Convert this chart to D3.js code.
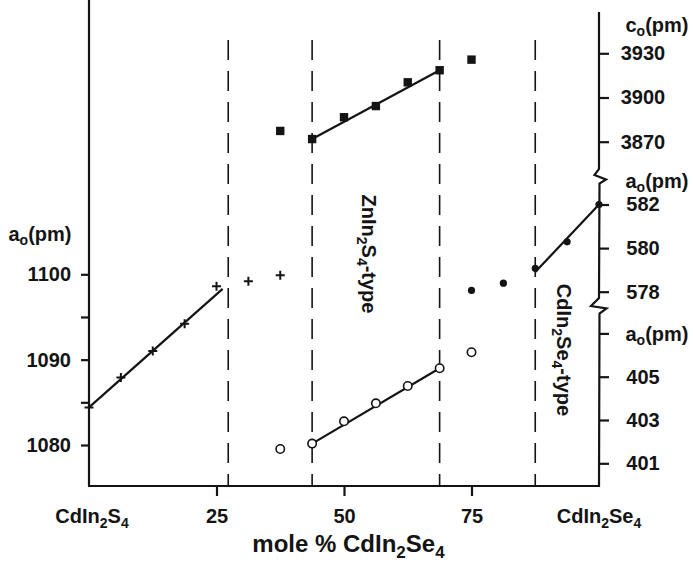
<!DOCTYPE html>
<html>
<head>
<meta charset="utf-8">
<script src="https://cdn.jsdelivr.net/npm/d3@7"></script>
<style>
  html, body { margin: 0; padding: 0; background: #fff; }
  svg { display: block; font-family: "Liberation Sans", Arial, Helvetica, sans-serif; font-weight: bold; }
  .tick text { font-family: "Liberation Sans", Arial, sans-serif; font-weight: bold; }
</style>
</head>
<body>
<svg id="chart" width="693" height="565"></svg>
<script>
// Lattice parameters across the CdIn2S4 – CdIn2Se4 series (mole % CdIn2Se4)

// a0 of the spinel phase (left axis, pm)
const crossPct = [0, 6.25, 12.5, 18.75, 25, 31.25, 37.5];
const crossA   = [1084.4, 1087.9, 1091.0, 1094.2, 1098.6, 1099.2, 1099.9];
const crossFit = [[0, 1084.4], [26.2, 1098.3]];

// c0 of the ZnIn2S4-type phase (right axis, top, pm)
const squarePct = [37.5, 43.75, 50, 56.25, 62.5, 68.75, 75];
const squareC   = [3877.3, 3871.8, 3886.6, 3894.2, 3910.3, 3918.5, 3925.7];
const squareFit = [[43.75, 3871.8], [68.75, 3918.5]];

// a0 of the CdIn2Se4-type phase (right axis, middle, pm)
const dotPct = [75, 81.25, 87.5, 93.75, 100];
const dotA   = [578.06, 578.39, 579.07, 580.29, 582.0];
const dotFit = [[87.5, 578.9], [100, 582.0]];

// a0 of the ZnIn2S4-type phase (right axis, bottom, pm)
const ringPct = [37.5, 43.75, 50, 56.25, 62.5, 68.75, 75];
const ringA   = [401.66, 401.91, 402.94, 403.77, 404.57, 405.39, 406.13];
const ringFit = [[43.75, 401.91], [68.75, 405.39]];

// Phase boundaries (mole %)
const boundaries = [27.3, 43.75, 68.75, 87.5];

// Tick values
const xTicks = [25, 50, 75];
const leftTicks = [1080, 1085, 1090, 1095, 1100];
const cTicks = [3870, 3900, 3930];
const a58Ticks = [578, 580, 582];
const a40Ticks = [401, 403, 405, 407];
const a40Labels = [401, 403, 405];

const svg = d3.select("#chart");
const ink = "#141414";

const x = d3.scaleLinear([0, 100], [89, 599]);
const yLeft = d3.scaleLinear([1080, 1100], [445, 274.3]);
const yC = d3.scaleLinear([3870, 3930], [141.7, 53.3]);
const yA58 = d3.scaleLinear([578, 582], [291.7, 204.5]);
const yA40 = d3.scaleLinear([401, 407], [463.3, 333.4]);
const yBottom = 486;

// phase boundaries
svg.append("g").selectAll("line").data(boundaries).join("line")
  .attr("x1", d => x(d)).attr("x2", d => x(d))
  .attr("y1", 40).attr("y2", yBottom)
  .attr("stroke", ink).attr("stroke-width", 1.6)
  .attr("stroke-dasharray", "20,11");

// frame lines
svg.append("line").attr("x1", x(0)).attr("x2", x(0)).attr("y1", 0).attr("y2", yBottom)
  .attr("stroke", ink).attr("stroke-width", 2.2);
svg.append("line").attr("x1", x(0) - 1).attr("x2", x(100) + 1).attr("y1", yBottom).attr("y2", yBottom)
  .attr("stroke", ink).attr("stroke-width", 2.2);

// right axis with two breaks
const rx = x(100);
const rightPath = d3.path();
rightPath.moveTo(rx, 12);
rightPath.lineTo(rx, 169);
rightPath.lineTo(rx - 4.5, 175);
rightPath.lineTo(rx + 7, 179.5);
rightPath.lineTo(rx + 0.5, 183.5);
rightPath.lineTo(rx, 298);
rightPath.lineTo(rx - 8, 306);
rightPath.lineTo(rx + 7.5, 308.5);
rightPath.lineTo(rx + 0.5, 313.5);
rightPath.lineTo(rx, yBottom + 1);
svg.append("path").attr("d", rightPath.toString())
  .attr("fill", "none").attr("stroke", ink).attr("stroke-width", 2.2)
  .attr("stroke-linejoin", "miter");

function styleAxis(g) {
  g.select(".domain").remove();
  g.selectAll(".tick line").attr("stroke", ink).attr("stroke-width", 2.2);
  g.selectAll(".tick text").attr("fill", ink).style("font-size", "20px");
}

// left axis
svg.append("g").attr("transform", `translate(${x(0)},0)`)
  .call(d3.axisLeft(yLeft).tickValues(leftTicks).tickSize(8).tickPadding(10)
    .tickFormat(d => d % 10 === 0 ? d : ""))
  .call(styleAxis);

// right axes
function rightAxis(scale, ticks, labels) {
  const g = svg.append("g").attr("transform", `translate(${rx},0)`)
    .call(d3.axisRight(scale).tickValues(ticks).tickSize(10)
      .tickFormat(d => labels.includes(d) ? d : ""))
    .call(styleAxis);
  g.selectAll(".tick text").attr("x", 44).attr("text-anchor", "middle");
}
rightAxis(yC, cTicks, cTicks);
rightAxis(yA58, a58Ticks, a58Ticks);
rightAxis(yA40, a40Ticks, a40Labels);

// bottom axis
const bx = svg.append("g").attr("transform", `translate(0,${yBottom})`)
  .call(d3.axisBottom(x).tickValues(xTicks).tickSize(10).tickPadding(0))
  .call(styleAxis);
bx.selectAll(".tick text").attr("dy", null).attr("y", 37);

// rich text helper: parts = [[text, size, dy], ...]
function rich(g, parts) {
  parts.forEach(([t, size, dy]) => {
    g.append("tspan").text(t).style("font-size", size + "px").attr("dy", dy);
  });
  return g;
}
function label(xp, yp, anchor, parts, rotate) {
  const t = svg.append("text").attr("fill", ink).attr("text-anchor", anchor);
  if (rotate) t.attr("transform", `translate(${xp},${yp}) rotate(${rotate})`);
  else t.attr("x", xp).attr("y", yp);
  return rich(t, parts);
}

// end-member labels on the composition axis
label(x(0) + 3, 523, "middle", [["CdIn", 20, 0], ["2", 14, 5], ["S", 20, -5], ["4", 14, 5]]);
label(x(100), 523, "middle", [["CdIn", 20, 0], ["2", 14, 5], ["Se", 20, -5], ["4", 14, 5]]);
label(348.5, 552, "middle", [["mole % CdIn", 24, 0], ["2", 17, 6], ["Se", 24, -6], ["4", 17, 6]]);

// axis titles
label(40, 241, "middle", [["a", 20, 0], ["o", 14, 4], ["(pm)", 20, -4]]);
label(657, 32, "middle", [["c", 20, 0], ["o", 14, 4], ["(pm)", 20, -4]]);
label(657, 188, "middle", [["a", 20, 0], ["o", 14, 4], ["(pm)", 20, -4]]);
label(657, 341, "middle", [["a", 20, 0], ["o", 14, 4], ["(pm)", 20, -4]]);

// phase labels
label(362, 254, "middle", [["ZnIn", 20, 0], ["2", 14, 5], ["S", 20, -5], ["4", 14, 5], ["-type", 20, -5]], 90);
label(557, 350, "middle", [["CdIn", 20, 0], ["2", 14, 5], ["Se", 20, -5], ["4", 14, 5], ["-type", 20, -5]], 90);

// fit lines
function fit(pts, y) {
  svg.append("line")
    .attr("x1", x(pts[0][0])).attr("y1", y(pts[0][1]))
    .attr("x2", x(pts[1][0])).attr("y2", y(pts[1][1]))
    .attr("stroke", ink).attr("stroke-width", 2.2);
}
fit(crossFit, yLeft);
fit(squareFit, yC);
fit(dotFit, yA58);
fit(ringFit, yA40);

// markers
svg.append("g").selectAll("path").data(crossPct).join("path")
  .attr("d", (d, i) => {
    const cx = x(d), cy = yLeft(crossA[i]), s = 4.5;
    return `M${cx - s},${cy}H${cx + s}M${cx},${cy - s}V${cy + s}`;
  })
  .attr("stroke", ink).attr("stroke-width", 2);

svg.append("g").selectAll("rect").data(squarePct).join("rect")
  .attr("x", d => x(d) - 4.2).attr("width", 8.4).attr("height", 8.4)
  .attr("y", (d, i) => yC(squareC[i]) - 4.2)
  .attr("fill", ink);

svg.append("g").selectAll("circle").data(dotPct).join("circle")
  .attr("cx", d => x(d)).attr("cy", (d, i) => yA58(dotA[i]))
  .attr("r", 3.6).attr("fill", ink);

svg.append("g").selectAll("circle").data(ringPct).join("circle")
  .attr("cx", d => x(d)).attr("cy", (d, i) => yA40(ringA[i]))
  .attr("r", 4.2).attr("fill", "#fff").attr("stroke", ink).attr("stroke-width", 1.6);
</script>
</body>
</html>
